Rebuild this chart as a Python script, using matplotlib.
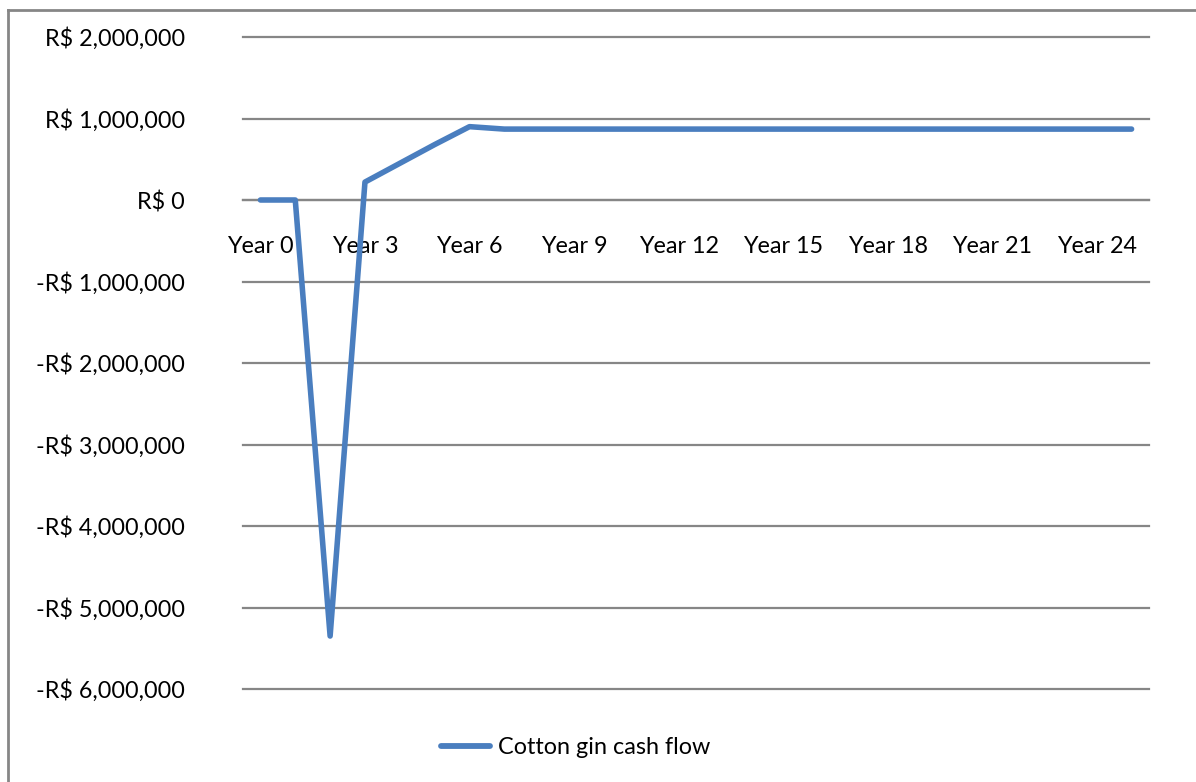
import matplotlib.pyplot as plt
from matplotlib.lines import Line2D
from matplotlib.ticker import FuncFormatter

plt.rcParams['font.family'] = ['Lato', 'DejaVu Sans']

years = list(range(26))
cash_flow = [0, 0, -5350000, 220000, 450000, 680000, 900000] + [870000] * 19
tick_years = list(range(0, 25, 3))
tick_labels = ['Year %d' % y for y in tick_years]

W, H = 1196, 782
fig = plt.figure(figsize=(W / 100, H / 100), dpi=100)
ax = fig.add_axes([243 / W, 1 - 689 / H, (1149 - 243) / W, (689 - 37) / H])

grid_color = '#868686'
line_color = '#4A7EBF'
fs = 16.8

ax.plot(years, cash_flow, color=line_color, lw=4, solid_joinstyle='round',
        solid_capstyle='round', zorder=3, label='Cotton gin cash flow')

ax.set_xlim(-0.5, 25.5)
ax.set_ylim(-6000000, 2000000)
ax.set_yticks(range(-6000000, 2000001, 1000000))
ax.yaxis.grid(True, color=grid_color, lw=1.6)
ax.set_axisbelow(True)
for gl in ax.get_ygridlines():
    gl.set_clip_on(False)


def brl(v, pos):
    s = 'R$ {:,.0f}'.format(abs(v))
    return '-' + s if v < 0 else s


ax.yaxis.set_major_formatter(FuncFormatter(brl))
ax.set_xticks(tick_years)
ax.set_xticklabels(tick_labels)

for side in ['top', 'right', 'left']:
    ax.spines[side].set_visible(False)
ax.spines['bottom'].set_position(('data', 0))
ax.spines['bottom'].set_color(grid_color)
ax.spines['bottom'].set_linewidth(1.6)

ax.tick_params(axis='x', length=0, pad=26, labelsize=fs, colors='black')
ax.tick_params(axis='y', length=0, pad=42, labelsize=fs, colors='black')

# chart frame (only top and left edges fall inside the image)
fx = 7.5 / W
fy = 1 - 9.5 / H
fig.add_artist(Line2D([fx, fx], [0, fy], transform=fig.transFigure, color=grid_color, lw=2))
fig.add_artist(Line2D([fx, 1], [fy, fy], transform=fig.transFigure, color=grid_color, lw=2))

leg = fig.legend(loc='center', bbox_to_anchor=(576 / W, 1 - 748 / H), frameon=False,
                 fontsize=fs, handlelength=2.1, handletextpad=0.35)
for h in leg.get_lines():
    h.set_linewidth(4.2)

fig.savefig('out.png', dpi=100)
